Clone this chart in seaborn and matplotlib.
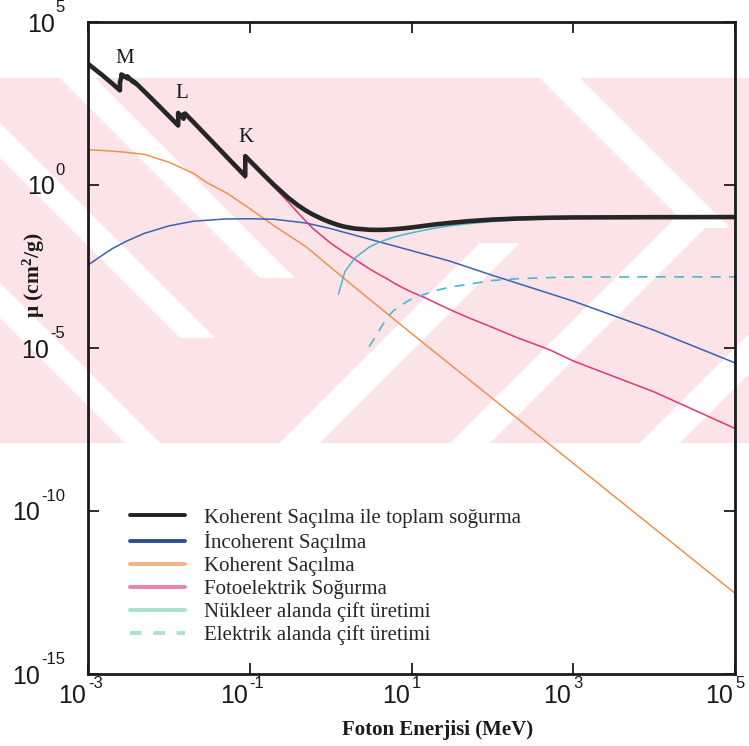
import matplotlib
matplotlib.use("Agg")
import matplotlib.pyplot as plt
import seaborn as sns
from matplotlib.lines import Line2D
from matplotlib.patches import Rectangle, Polygon
from matplotlib.ticker import NullLocator
from matplotlib.transforms import blended_transform_factory, offset_copy

# ---------------- data (lead, mass attenuation coefficients, cm2/g) ----------------
E_total = [1.0e-3, 1.5e-3, 2.0e-3, 2.484e-3, 2.484e-3, 2.534e-3, 2.586e-3, 2.586e-3,
           3.0e-3, 3.066e-3, 3.066e-3, 3.301e-3, 3.554e-3, 3.554e-3, 3.699e-3,
           3.851e-3, 3.851e-3, 4.0e-3, 5.0e-3, 6.0e-3, 8.0e-3, 1.0e-2, 1.3035e-2,
           1.3035e-2, 1.5e-2, 1.52e-2, 1.52e-2, 1.5527e-2, 1.5861e-2, 1.5861e-2,
           2.0e-2, 3.0e-2, 4.0e-2, 5.0e-2, 6.0e-2, 8.0e-2, 8.8e-2, 8.8e-2, 0.10,
           0.15, 0.20, 0.30, 0.40, 0.50, 0.60, 0.80, 1.0, 1.25, 1.5, 2.0, 3.0, 4.0,
           5.0, 6.0, 8.0, 10.0, 15.0, 20.0, 30.0, 50.0, 100.0, 200.0, 500.0, 1e3,
           1e4, 1e5]
mu_total = [5210, 2356, 1285, 800.6, 1397, 1726, 1944, 2458, 1965, 1857, 2146, 1796,
            1496, 1585, 1442, 1311, 1368, 1251, 730.4, 467.2, 228.7, 130.6, 67.01,
            162.1, 111.6, 107.8, 148.5, 141.6, 135.0, 155.7, 86.36, 30.32, 14.36,
            8.041, 5.021, 2.419, 1.910, 7.683, 5.549, 2.014, 0.9985, 0.4031, 0.2323,
            0.1614, 0.1248, 0.0887, 0.07102, 0.05876, 0.05222, 0.04606, 0.04234,
            0.04197, 0.04272, 0.04391, 0.04675, 0.04972, 0.0566, 0.0621, 0.0690,
            0.0775, 0.0870, 0.0935, 0.0990, 0.1010, 0.1030, 0.1040]
mu_photo = [5197, 2344, 1274, 790, 1387, 1716, 1934, 2448, 1956, 1848, 2137, 1787,
            1488, 1577, 1434, 1303, 1360, 1243, 723, 461, 224, 126.7, 64.0, 159.1,
            108.9, 105.1, 145.8, 138.9, 132.4, 153.1, 84.1, 29.0, 13.4, 7.3, 4.5,
            2.05, 1.6, 7.38, 5.29, 1.86, 0.86, 0.30, 0.135, 0.075, 0.047, 0.026,
            0.0165, 0.0112, 0.0083, 0.0052, 0.0027, 0.00178, 0.00132, 0.00100,
            0.00068, 0.00052, 0.00034, 0.00024, 0.00015, 8.6e-5, 4.3e-5, 2.1e-5,
            9.0e-6, 4.0e-6, 4.5e-7, 3.4e-8]

E_coh = [1e-3, 2e-3, 3e-3, 5e-3, 1e-2, 2e-2, 3e-2, 5e-2, 0.1, 0.2, 0.5, 1, 2, 10, 1e5]
mu_coh = [12.0, 11.0, 10.0, 8.7, 5.0, 2.3, 1.15, 0.60, 0.19, 0.056, 0.0126, 3.0e-3,
          7.2e-4, 2.8e-5, 3.0e-13]

E_incoh = [1e-3, 1.5e-3, 2e-3, 3e-3, 5e-3, 1e-2, 2e-2, 5e-2, 0.1, 0.2, 0.5, 1, 2, 5,
           10, 30, 100, 1e3, 1e4, 1e5]
mu_incoh = [3.5e-3, 7.0e-3, 0.0112, 0.019, 0.033, 0.0557, 0.0773, 0.091, 0.092, 0.089,
            0.068, 0.046, 0.0288, 0.0155, 9.7e-3, 4.6e-3, 1.7e-3, 2.74e-4, 3.5e-5,
            3.5e-6]

E_pair_nuc = [1.25, 1.5, 2, 3, 4, 5, 6, 8, 10, 15, 20, 30, 50, 100, 200, 500, 1e3,
              1e4, 1e5]
mu_pair_nuc = [4.5e-4, 2.2e-3, 5.8e-3, 0.0125, 0.0175, 0.0215, 0.025, 0.030, 0.034,
               0.042, 0.048, 0.056, 0.065, 0.076, 0.084, 0.092, 0.096, 0.100, 0.102]

E_pair_el = [3, 4, 5, 6, 8, 10, 15, 20, 30, 50, 100, 200, 500, 1e3, 1e4, 1e5]
mu_pair_el = [1.1e-5, 3.5e-5, 8.5e-5, 1.4e-4, 2.3e-4, 3.2e-4, 4.6e-4, 5.8e-4, 7.4e-4,
              9.0e-4, 1.18e-3, 1.33e-3, 1.45e-3, 1.5e-3, 1.52e-3, 1.52e-3]

legend_labels = ["Koherent Saçılma ile toplam soğurma", "İncoherent Saçılma",
                 "Koherent Saçılma", "Fotoelektrik Soğurma",
                 "Nükleer alanda çift üretimi", "Elektrik alanda çift üretimi"]
edge_labels = ["M", "L", "K"]
edge_E = [2.87e-3, 1.45e-2, 8.9e-2]
edge_mu = [7600, 630, 28]

x_ticks = [1e-3, 1e-1, 1e1, 1e3, 1e5]
x_exponents = ["-3", "-1", "1", "3", "5"]
y_ticks = [1e-15, 1e-10, 1e-5, 1e0, 1e5]
y_exponents = ["-15", "-10", "-5", "0", "5"]

# ---------------- style ----------------
sns.set_style("ticks")
plt.rcParams["font.family"] = ["Liberation Serif", "DejaVu Serif"]
SANS = ["Liberation Sans Narrow", "Liberation Sans", "DejaVu Sans"]
INK = "#1a1a1a"

W, H = 749, 746
fig = plt.figure(figsize=(W / 100, H / 100), dpi=100)
fig.patch.set_facecolor("white")


def fx(px):
    return px / W


def fy(py):
    return 1 - py / H


# background watermark band (light pink with white diagonal stripes)
band_top, band_bot = 78, 443
fig.add_artist(Rectangle((0, fy(band_bot)), 1, (band_bot - band_top) / H,
                         transform=fig.transFigure, color="#fbe3e8", zorder=-5, lw=0))
stripes_back = [(60, 35, 200), (-80, 35, 260), (-240, 35, 365), (540, 40, 150)]
for x0, w, L in stripes_back:
    pts = [(x0, band_top), (x0 + w, band_top), (x0 + w + L, band_top + L), (x0 + L, band_top + L)]
    fig.add_artist(Polygon([(fx(a), fy(b)) for a, b in pts], closed=True,
                           transform=fig.transFigure, color="white", zorder=-4, lw=0))
stripes_fwd = [(280, 40, 200), (450, 40, 230), (640, 40, 200)]
for xb, w, L in stripes_fwd:
    pts = [(xb, band_bot), (xb + w, band_bot), (xb + w + L, band_bot - L), (xb + L, band_bot - L)]
    fig.add_artist(Polygon([(fx(a), fy(b)) for a, b in pts], closed=True,
                           transform=fig.transFigure, color="white", zorder=-4, lw=0))

ax = fig.add_axes([fx(88), fy(674), (735 - 88) / W, (674 - 22) / H])
ax.patch.set_alpha(0)

c_coh = "#e8944c"
c_incoh = "#3a62b2"
c_photo = "#e0347c"
c_pair = "#4cb6cc"

sns.lineplot(x=E_coh, y=mu_coh, ax=ax, color=c_coh, lw=1.1, estimator=None, sort=False)
sns.lineplot(x=E_incoh, y=mu_incoh, ax=ax, color=c_incoh, lw=1.1, estimator=None, sort=False)
sns.lineplot(x=E_total, y=mu_photo, ax=ax, color=c_photo, lw=1.1, estimator=None, sort=False)
sns.lineplot(x=E_pair_nuc, y=mu_pair_nuc, ax=ax, color=c_pair, lw=1.1, estimator=None, sort=False)
sns.lineplot(x=E_pair_el, y=mu_pair_el, ax=ax, color=c_pair, lw=1.2, estimator=None,
             sort=False, dashes=False, linestyle=(0, (6, 5)))
sns.lineplot(x=E_total, y=mu_total, ax=ax, color="#262626", lw=3.3, estimator=None, sort=False)

ax.set_xscale("log")
ax.set_yscale("log")
ax.set_xlim(1e-3, 1e5)
ax.set_ylim(1e-15, 1e5)
ax.set_xlabel("")
ax.set_ylabel("")

ax.set_xticks(x_ticks)
ax.set_yticks(y_ticks)
ax.set_xticklabels([])
ax.set_yticklabels([])
ax.xaxis.set_minor_locator(NullLocator())
ax.yaxis.set_minor_locator(NullLocator())
ax.tick_params(axis="both", direction="in", length=8, width=1.3, top=True, right=True,
               color=INK)
for s in ax.spines.values():
    s.set_linewidth(2.0)
    s.set_color(INK)

# tick labels: "10" with superscript exponent
BASE_FS, SUP_FS = 18, 12
tx = blended_transform_factory(ax.transData, ax.transAxes)
for t, e in zip(x_ticks, x_exponents):
    ax.text(t, 0, "10", transform=offset_copy(tx, fig, x=-2, y=-10, units="dots"),
            ha="right", va="top", family=SANS, fontsize=BASE_FS, color=INK)
    ax.text(t, 0, e, transform=offset_copy(tx, fig, x=0, y=-2, units="dots"),
            ha="left", va="top", family=SANS, fontsize=SUP_FS, color=INK)

ty = blended_transform_factory(ax.transAxes, ax.transData)
sups = []
for t, e in zip(y_ticks, y_exponents):
    s = ax.text(0, t, e, transform=offset_copy(ty, fig, x=-23, y=7, units="dots"),
                ha="right", va="bottom", family=SANS, fontsize=SUP_FS, color=INK)
    sups.append(s)
fig.canvas.draw()
rend = fig.canvas.get_renderer()
for t, s in zip(y_ticks, sups):
    w = s.get_window_extent(rend).width
    ax.text(0, t, "10", transform=offset_copy(ty, fig, x=-23 - w - 1, y=0, units="dots"),
            ha="right", va="center_baseline", family=SANS, fontsize=BASE_FS, color=INK)

for lab, e, m in zip(edge_labels, edge_E, edge_mu):
    ax.text(e, m, lab, fontsize=15, ha="center", va="center", color=INK)

handles = [
    Line2D([], [], color="#222222", lw=2.8),
    Line2D([], [], color="#2f5090", lw=2.8),
    Line2D([], [], color="#f4b386", lw=2.8),
    Line2D([], [], color="#e981ae", lw=2.8),
    Line2D([], [], color="#a8e2c8", lw=2.8),
    Line2D([], [], color="#a8e2c8", lw=2.8, linestyle=(0, (3, 3))),
]
ax.legend(handles, legend_labels, loc="upper left",
          bbox_to_anchor=((130 - 88) / 647, 1 - (508 - 22) / 652),
          frameon=False, fontsize=15, handlelength=2.65, handletextpad=0.9,
          labelspacing=0.16, borderpad=0, borderaxespad=0)

fig.text(fx(438), fy(730), "Foton Enerjisi (MeV)", ha="center", va="center",
         fontsize=15, fontweight="bold", color=INK)
fig.text(fx(34), fy(275), r"μ (cm$\mathregular{^2}$/g)", ha="center", va="center",
         rotation=90, fontsize=15.5, fontweight="bold", color=INK)

fig.savefig("out.png", dpi=100)
